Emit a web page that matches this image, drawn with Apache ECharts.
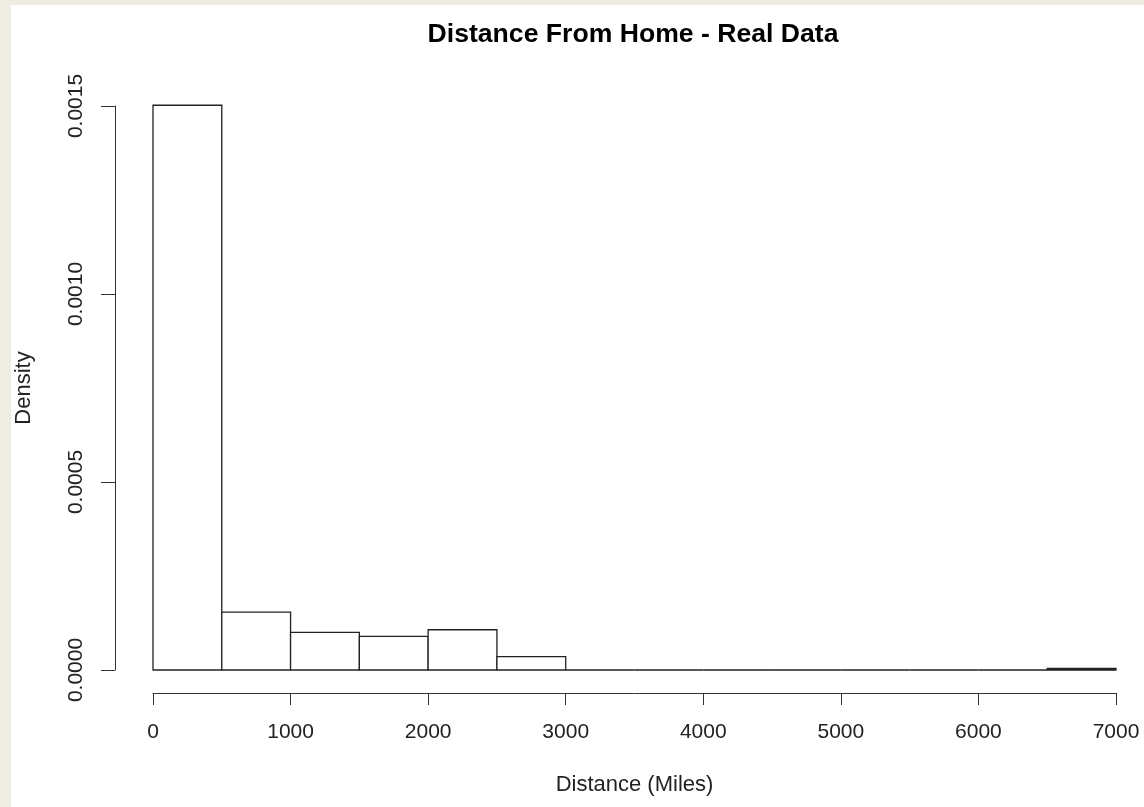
<!DOCTYPE html>
<html>
<head>
<meta charset="utf-8">
<script src="https://cdn.jsdelivr.net/npm/echarts@6/dist/echarts.min.js"></script>
<style>
  html, body { margin: 0; padding: 0; background: #efece4; }
  #chart-container { position: absolute; left: 11px; top: 5px; width: 1133px; height: 802px; background: #ffffff; }
</style>
</head>
<body>
<div id="chart-container"></div>
<script>
// histogram bins (miles) and density
var binStarts = [0, 500, 1000, 1500, 2000, 2500, 3000, 3500, 4000, 4500, 5000, 5500, 6000, 6500];
var binWidth = 500;
var densities = [0.001502, 0.000154, 0.0001, 0.0000896, 0.000107, 0.0000354, 0, 0, 0, 0, 0, 0, 0, 0.000004];
var xTicks = [0, 1000, 2000, 3000, 4000, 5000, 6000, 7000];
var yTicks = [0, 0.0005, 0.001, 0.0015];

var dom = document.getElementById('chart-container');
var myChart = echarts.init(dom);
var fontName = '"Liberation Sans", Arial, sans-serif';

var histData = binStarts.map(function (s, i) {
  return [s, s + binWidth, densities[i]];
});

myChart.setOption({
  animation: false,
  backgroundColor: '#ffffff',
  title: {
    text: 'Distance From Home - Real Data',
    left: 622,
    top: 16,
    padding: 0,
    textAlign: 'center',
    textStyle: { fontFamily: fontName, fontSize: 26.6, fontWeight: 'bold', color: '#000' }
  },
  grid: { left: 142, right: 28, top: 101, bottom: 137, containLabel: false, outerBoundsMode: 'none' },
  xAxis: {
    type: 'value',
    min: 0,
    max: 7000,
    interval: 1000,
    offset: 23,
    name: 'Distance (Miles)',
    nameLocation: 'middle',
    nameGap: 81,
    nameTextStyle: { fontFamily: fontName, fontSize: 22, color: '#222' },
    axisLine: { show: true, onZero: false, lineStyle: { color: '#333', width: 1 } },
    axisTick: { show: true, length: 12, lineStyle: { color: '#333' } },
    axisLabel: {
      fontFamily: fontName, fontSize: 21, color: '#222', margin: 29,
      formatter: function (v) { return xTicks.indexOf(v) >= 0 ? String(v) : ''; }
    },
    splitLine: { show: false }
  },
  yAxis: {
    type: 'value',
    min: 0,
    max: 0.0015,
    interval: 0.0005,
    offset: 38,
    name: 'Density',
    nameLocation: 'middle',
    nameGap: 80,
    nameMoveOverlap: false,
    nameTextStyle: { fontFamily: fontName, fontSize: 22, color: '#222' },
    axisLine: { show: true, onZero: false, lineStyle: { color: '#333', width: 1 } },
    axisTick: { show: true, length: 14, lineStyle: { color: '#333' } },
    axisLabel: {
      rotate: 90, fontFamily: fontName, fontSize: 21, color: '#222', margin: 28,
      formatter: function (v) {
        var i = yTicks.findIndex(function (t) { return Math.abs(t - v) < 1e-9; });
        return i >= 0 ? yTicks[i].toFixed(4) : '';
      }
    },
    splitLine: { show: false }
  },
  series: [{
    type: 'custom',
    clip: false,
    encode: { x: [0, 1], y: 2 },
    data: histData,
    renderItem: function (params, api) {
      var p0 = api.coord([api.value(0), api.value(2)]);
      var p1 = api.coord([api.value(1), 0]);
      return {
        type: 'rect',
        shape: { x: p0[0], y: p0[1], width: p1[0] - p0[0], height: p1[1] - p0[1] },
        style: { fill: '#ffffff', stroke: '#222', lineWidth: 1.3 }
      };
    }
  }]
});

window.addEventListener('resize', myChart.resize);
</script>
</body>
</html>
